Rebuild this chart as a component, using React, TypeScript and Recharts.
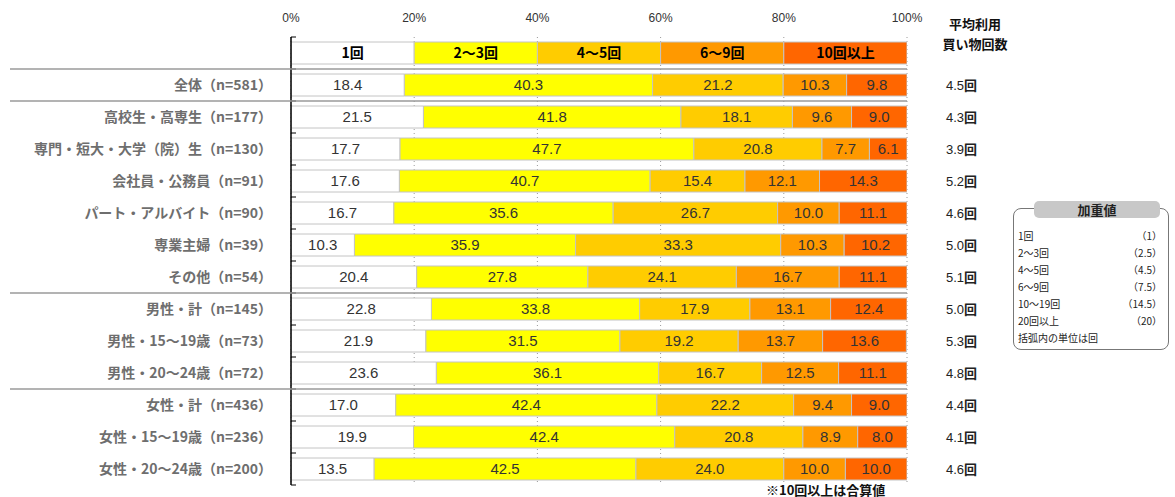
import React from "react";
import { BarChart, Bar, XAxis, YAxis, CartesianGrid, LabelList } from "recharts";

const SERIES = ["1回", "2～3回", "4～5回", "6～9回", "10回以上"];
const COLORS = ["#ffffff", "#ffff00", "#ffcc00", "#ff9900", "#ff6600"];
const KEYS = ["s1", "s2", "s3", "s4", "s5"];

const CATEGORIES = [
  "全体（n=581）",
  "高校生・高専生（n=177）",
  "専門・短大・大学（院）生（n=130）",
  "会社員・公務員（n=91）",
  "パート・アルバイト（n=90）",
  "専業主婦（n=39）",
  "その他（n=54）",
  "男性・計（n=145）",
  "男性・15～19歳（n=73）",
  "男性・20～24歳（n=72）",
  "女性・計（n=436）",
  "女性・15～19歳（n=236）",
  "女性・20～24歳（n=200）",
];

const ONCE = [18.4, 21.5, 17.7, 17.6, 16.7, 10.3, 20.4, 22.8, 21.9, 23.6, 17.0, 19.9, 13.5];
const TWO_THREE = [40.3, 41.8, 47.7, 40.7, 35.6, 35.9, 27.8, 33.8, 31.5, 36.1, 42.4, 42.4, 42.5];
const FOUR_FIVE = [21.2, 18.1, 20.8, 15.4, 26.7, 33.3, 24.1, 17.9, 19.2, 16.7, 22.2, 20.8, 24.0];
const SIX_NINE = [10.3, 9.6, 7.7, 12.1, 10.0, 10.3, 16.7, 13.1, 13.7, 12.5, 9.4, 8.9, 10.0];
const TEN_PLUS = [9.8, 9.0, 6.1, 14.3, 11.1, 10.2, 11.1, 12.4, 13.6, 11.1, 9.0, 8.0, 10.0];
const AVERAGE = [4.5, 4.3, 3.9, 5.2, 4.6, 5.0, 5.1, 5.0, 5.3, 4.8, 4.4, 4.1, 4.6];

// header row doubles as legend: five equal cells
const LEGEND_WIDTHS = [20, 20, 20, 20, 20];
const X_TICKS = [0, 20, 40, 60, 80, 100];
// rows that start a new group (separator above them), header is row 0
const GROUP_STARTS = [1, 2, 8, 11];

const WEIGHTS = [
  ["1回", "（1）"],
  ["2～3回", "（2.5）"],
  ["4～5回", "（4.5）"],
  ["6～9回", "（7.5）"],
  ["10～19回", "（14.5）"],
  ["20回以上", "（20）"],
];

const columns = [ONCE, TWO_THREE, FOUR_FIVE, SIX_NINE, TEN_PLUS];

const data = [
  { name: "", header: true, ...Object.fromEntries(KEYS.map((k, i) => [k, LEGEND_WIDTHS[i]])) },
  ...CATEGORIES.map((name, r) => ({
    name,
    header: false,
    avg: AVERAGE[r],
    ...Object.fromEntries(KEYS.map((k, i) => [k, columns[i][r]])),
  })),
];

const JP = "'Noto Sans CJK JP', sans-serif";
const NUM = "'Liberation Sans', Arial, 'Noto Sans CJK JP', sans-serif";
const HALF_ROW = 16;

const CategoryTick = (props: any) => {
  const { y, payload } = props;
  const idx = payload.index;
  const row = data[idx];
  return (
    <g>
      {GROUP_STARTS.includes(idx) && (
        <line x1={10} x2={907} y1={y - HALF_ROW} y2={y - HALF_ROW} stroke="#9a9a9a" strokeWidth={1.5} />
      )}
      <line x1={291} x2={296} y1={y + HALF_ROW} y2={y + HALF_ROW} stroke="#000" />
      {idx === 0 && <line x1={291} x2={296} y1={y - HALF_ROW} y2={y - HALF_ROW} stroke="#000" />}
      {!row.header && (
        <text x={272} y={y} dy={5} textAnchor="end" fill="#6e6e6e" fontSize={14} fontWeight="bold" fontFamily={JP}>
          {row.name}
        </text>
      )}
      {!row.header && (
        <text x={946} y={y} dy={5} textAnchor="start" fill="#222" fontSize={13} fontFamily={NUM}>
          {row.avg.toFixed(1)}
          <tspan fontFamily={JP} fontWeight="bold">回</tspan>
        </text>
      )}
    </g>
  );
};

const PercentTick = (props: any) => {
  const { x, payload } = props;
  return (
    <text x={x} y={22} textAnchor="middle" fill="#333" fontSize={12} fontFamily={NUM}>
      {payload.value}%
    </text>
  );
};

const makeLabel = (si: number) => (props: any) => {
  const { x, y, width, height, value, index } = props;
  const cx = x + width / 2;
  const cy = y + height / 2;
  if (data[index].header) {
    return (
      <text x={cx} y={cy} dy={5} textAnchor="middle" fill="#000" fontSize={14} fontWeight="bold" fontFamily={JP}>
        {SERIES[si]}
      </text>
    );
  }
  return (
    <text x={cx} y={cy} dy={5} textAnchor="middle" fill="#333" fontSize={15} fontFamily={NUM}>
      {Number(value).toFixed(1)}
    </text>
  );
};

export default function App() {
  return (
    <div style={{ position: "absolute", left: 0, top: 0, width: 1175, height: 497, background: "#fff" }}>
      <BarChart
        width={1175}
        height={497}
        data={data}
        layout="vertical"
        barSize={22}
        margin={{ top: 17, right: 268, bottom: 12, left: 11 }}
      >
        <CartesianGrid horizontal={false} stroke="#9a9a9a" strokeDasharray="1 3" />
        <XAxis
          type="number"
          orientation="top"
          domain={[0, 100]}
          ticks={X_TICKS}
          height={20}
          axisLine={false}
          tickLine={false}
          tick={<PercentTick />}
          allowDataOverflow
        />
        <YAxis
          type="category"
          dataKey="name"
          width={280}
          axisLine={{ stroke: "#000", strokeWidth: 1.5 }}
          tickLine={false}
          tick={<CategoryTick />}
          interval={0}
        />
        {KEYS.map((k, i) => (
          <Bar key={k} dataKey={k} stackId="a" fill={COLORS[i]} stroke="#c4c4c4" strokeWidth={1} isAnimationActive={false}>
            <LabelList dataKey={k} content={makeLabel(i)} />
          </Bar>
        ))}
      </BarChart>

      <div style={{ position: "absolute", left: 930, top: 14, width: 90, textAlign: "center", fontFamily: JP, fontWeight: "bold", fontSize: 13, lineHeight: "20px", color: "#111" }}>
        平均利用
        <br />
        買い物回数
      </div>

      <div style={{ position: "absolute", left: 766, top: 480, fontFamily: JP, fontWeight: "bold", fontSize: 13, color: "#111", whiteSpace: "nowrap" }}>
        ※10回以上は合算値
      </div>

      <div style={{ position: "absolute", left: 1013, top: 208, width: 156, height: 142, border: "1px solid #777", borderRadius: 8, boxSizing: "border-box" }}>
        <div style={{ position: "absolute", left: 20, top: -8, width: 126, height: 17, background: "#c8c8c8", borderRadius: 5, textAlign: "center", fontFamily: JP, fontWeight: "bold", fontSize: 13, lineHeight: "17px", color: "#222" }}>
          加重値
        </div>
        <div style={{ position: "absolute", left: 4, right: 6, top: 18, fontFamily: JP, fontSize: 10, color: "#222" }}>
          {WEIGHTS.map(([a, b]) => (
            <div key={a} style={{ display: "flex", justifyContent: "space-between", height: 17, lineHeight: "17px" }}>
              <span>{a}</span>
              <span>{b}</span>
            </div>
          ))}
          <div style={{ height: 17, lineHeight: "17px" }}>括弧内の単位は回</div>
        </div>
      </div>
    </div>
  );
}
